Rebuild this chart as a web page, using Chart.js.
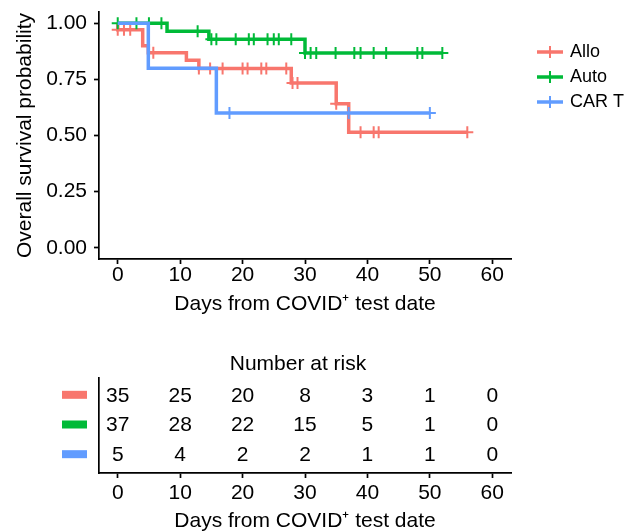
<!DOCTYPE html>
<html>
<head>
<meta charset="utf-8">
<title>Overall survival after COVID+ test</title>
<script src="https://cdn.jsdelivr.net/npm/chart.js@4.4.1/dist/chart.umd.min.js"></script>
<style>
    html, body { margin: 0; padding: 0; background: #fff; overflow: hidden; }
    #wrap { position: relative; width: 638px; height: 531px; overflow: hidden; }
    #km { position: absolute; left: 0; top: 0; }
    #risk { position: absolute; left: 0; top: 340px; }
</style>
</head>
<body>
<div id="wrap">
    <canvas id="km" width="638" height="340"></canvas>
    <canvas id="risk" width="638" height="200"></canvas>
</div>
<script>
// --- Data ---
const groups = ["Allo", "Auto", "CAR T"];
const colors = ["#F8766D", "#00BA38", "#619CFF"];

// step curves: time of each step and survival after it
const alloTimes = [0, 0, 4, 4.9, 11, 13, 27.8, 35, 37];
const alloSurv = [1, 0.971, 0.9, 0.869, 0.835, 0.798, 0.734, 0.641, 0.515];
const alloEnd = 56;
const alloCensor = [0, 1, 2, 5.7, 13, 14.8, 16.8, 20, 20.8, 23, 23.8, 27, 28, 28.8, 35, 38.9, 41, 41.8, 56];

const autoTimes = [0, 7.9, 14.6, 30];
const autoSurv = [1, 0.964, 0.929, 0.867];
const autoEnd = 52;
const autoCensor = [0, 3, 5, 7, 12.8, 15, 15.8, 18.9, 21, 21.8, 24, 25, 25.8, 27.8, 30, 30.9, 31.8, 34.9, 37.9, 38.9, 41, 43, 48, 48.8, 52];

const cartTimes = [0, 4.9, 15.8];
const cartSurv = [1, 0.8, 0.6];
const cartEnd = 50;
const cartCensor = [17.9, 37, 50];

// number at risk table
const riskTimes = [0, 10, 20, 30, 40, 50, 60];
const riskAllo = [35, 25, 20, 8, 3, 1, 0];
const riskAuto = [37, 28, 22, 15, 5, 1, 0];
const riskCart = [5, 4, 2, 2, 1, 1, 0];

// axes
const dayTicks = [0, 10, 20, 30, 40, 50, 60];
const survTicks = [0, 0.25, 0.5, 0.75, 1];
const survTickLabels = ["0.00", "0.25", "0.50", "0.75", "1.00"];
const xTitle = "Days from COVID\u207A test date";
const yTitle = "Overall survival probability";
const tableTitle = "Number at risk";

const FONT = "'Liberation Sans', Arial, Helvetica, sans-serif";
Chart.defaults.font.family = FONT;
Chart.defaults.color = "#000";

const curves = [
    { times: alloTimes, surv: alloSurv, end: alloEnd, censor: alloCensor },
    { times: autoTimes, surv: autoSurv, end: autoEnd, censor: autoCensor },
    { times: cartTimes, surv: cartSurv, end: cartEnd, censor: cartCensor }
];
const riskCounts = [riskAllo, riskAuto, riskCart];
const riskRows = [3, 2, 1];

// survival value of a step curve at time t
function survAt(c, t) {
    let v = c.surv[0];
    c.times.forEach((tt, k) => { if (tt <= t) v = c.surv[k]; });
    return v;
}

// --- Build datasets ---
const kmDatasets = [];
curves.forEach((c, i) => {
    const pts = c.times.map((t, k) => ({ x: t, y: c.surv[k] }));
    pts.push({ x: c.end, y: c.surv[c.surv.length - 1] });
    kmDatasets.push({
        label: groups[i],
        data: pts,
        borderColor: colors[i],
        borderWidth: 3.5,
        stepped: "before",
        pointRadius: 0,
        fill: false,
        borderJoinStyle: "miter",
        order: (3 - i) * 2
    });
    kmDatasets.push({
        label: groups[i] + " censored",
        data: c.censor.map(t => ({ x: t, y: survAt(c, t) })),
        showLine: false,
        pointStyle: "cross",
        pointRadius: 6,
        pointBorderWidth: 2,
        pointBorderColor: colors[i],
        pointBackgroundColor: colors[i],
        order: (3 - i) * 2 - 1
    });
});

// --- Legend with "+" keys ---
const kmLegend = {
    id: "kmLegend",
    afterDraw(chart) {
        const ctx = chart.ctx;
        ctx.save();
        groups.forEach((g, i) => {
            const y = 52 + i * 25;
            ctx.strokeStyle = colors[i];
            ctx.lineWidth = 3.5;
            ctx.beginPath(); ctx.moveTo(537, y); ctx.lineTo(563, y); ctx.stroke();
            ctx.lineWidth = 2;
            ctx.beginPath(); ctx.moveTo(550, y - 6); ctx.lineTo(550, y + 6); ctx.stroke();
            ctx.fillStyle = "#000";
            ctx.font = "18px " + FONT;
            ctx.textAlign = "left";
            ctx.textBaseline = "middle";
            ctx.fillText(g, 570, y);
        });
        ctx.restore();
    }
};

function zeroPad(s) {
    s.paddingTop = 0; s.paddingBottom = 0; s.paddingLeft = 0; s.paddingRight = 0;
}

// --- Main survival chart ---
new Chart(document.getElementById("km"), {
    type: "line",
    data: { datasets: kmDatasets },
    plugins: [kmLegend],
    options: {
        responsive: false,
        animation: false,
        layout: { padding: { left: 0, right: 127, top: 12, bottom: 0 } },
        plugins: { legend: { display: false }, tooltip: { enabled: false } },
        scales: {
            x: {
                type: "linear", min: -3, max: 63,
                afterBuildTicks: s => { s.ticks = dayTicks.map(v => ({ value: v })); },
                afterFit: s => { s.height = 81; zeroPad(s); },
                ticks: { font: { size: 21 }, padding: -1, maxRotation: 0, autoSkip: false, callback: v => String(v) },
                grid: { drawOnChartArea: false, drawTicks: true, tickLength: 5, color: "#000", tickWidth: 1.7 },
                border: { display: true, color: "#000", width: 1.7 },
                title: { display: true, text: xTitle, font: { size: 21 }, padding: { top: 0, bottom: 23 } }
            },
            y: {
                type: "linear", min: -0.05, max: 1.05,
                afterBuildTicks: s => { s.ticks = survTicks.map(v => ({ value: v })); },
                afterFit: s => { s.width = 99; zeroPad(s); },
                ticks: { font: { size: 21 }, padding: 7, autoSkip: false,
                    callback: (v, idx) => survTickLabels[idx] },
                grid: { drawOnChartArea: false, drawTicks: true, tickLength: 5, color: "#000", tickWidth: 1.7 },
                border: { display: true, color: "#000", width: 1.7 },
                title: { display: true, text: yTitle, font: { size: 21 }, padding: { top: 13, bottom: 0 } }
            }
        }
    }
});

// --- Risk table ---
const riskDatasets = riskCounts.map((row, i) => ({
    label: groups[i],
    data: riskTimes.map(t => ({ x: t, y: riskRows[i] })),
    showLine: false,
    pointRadius: 0
}));

const riskText = {
    id: "riskText",
    afterDatasetsDraw(chart) {
        const ctx = chart.ctx;
        const yScale = chart.scales.y;
        ctx.save();
        ctx.textAlign = "center";
        ctx.textBaseline = "middle";
        ctx.font = "21px " + FONT;
        ctx.fillStyle = "#000";
        riskCounts.forEach((row, i) => {
            const meta = chart.getDatasetMeta(i);
            meta.data.forEach((pt, k) => ctx.fillText(String(row[k]), pt.x, pt.y));
            // colour key bar
            const yy = yScale.getPixelForValue(riskRows[i]);
            ctx.fillStyle = colors[i];
            ctx.fillRect(62, yy - 5, 25, 8);
            ctx.fillStyle = "#000";
        });
        ctx.font = "21px " + FONT;
        ctx.fillText(tableTitle, 298, 24);
        ctx.restore();
    }
};

new Chart(document.getElementById("risk"), {
    type: "line",
    data: { datasets: riskDatasets },
    plugins: [riskText],
    options: {
        responsive: false,
        animation: false,
        layout: { padding: { left: 0, right: 127, top: 38, bottom: 0 } },
        plugins: { legend: { display: false }, tooltip: { enabled: false } },
        scales: {
            x: {
                type: "linear", min: -3, max: 63,
                afterBuildTicks: s => { s.ticks = riskTimes.map(v => ({ value: v })); },
                afterFit: s => { s.height = 67; zeroPad(s); },
                ticks: { font: { size: 21 }, padding: 3, maxRotation: 0, autoSkip: false, callback: v => String(v) },
                grid: { drawOnChartArea: false, drawTicks: true, tickLength: 5, color: "#000", tickWidth: 1.7 },
                border: { display: true, color: "#000", width: 1.7 },
                title: { display: true, text: xTitle, font: { size: 21 }, padding: { top: 0, bottom: 6 } }
            },
            y: {
                type: "linear", min: 0.4, max: 3.6,
                afterFit: s => { s.width = 99; zeroPad(s); },
                ticks: { display: false },
                grid: { display: false },
                border: { display: true, color: "#000", width: 1.7 }
            }
        }
    }
});
</script>
</body>
</html>
